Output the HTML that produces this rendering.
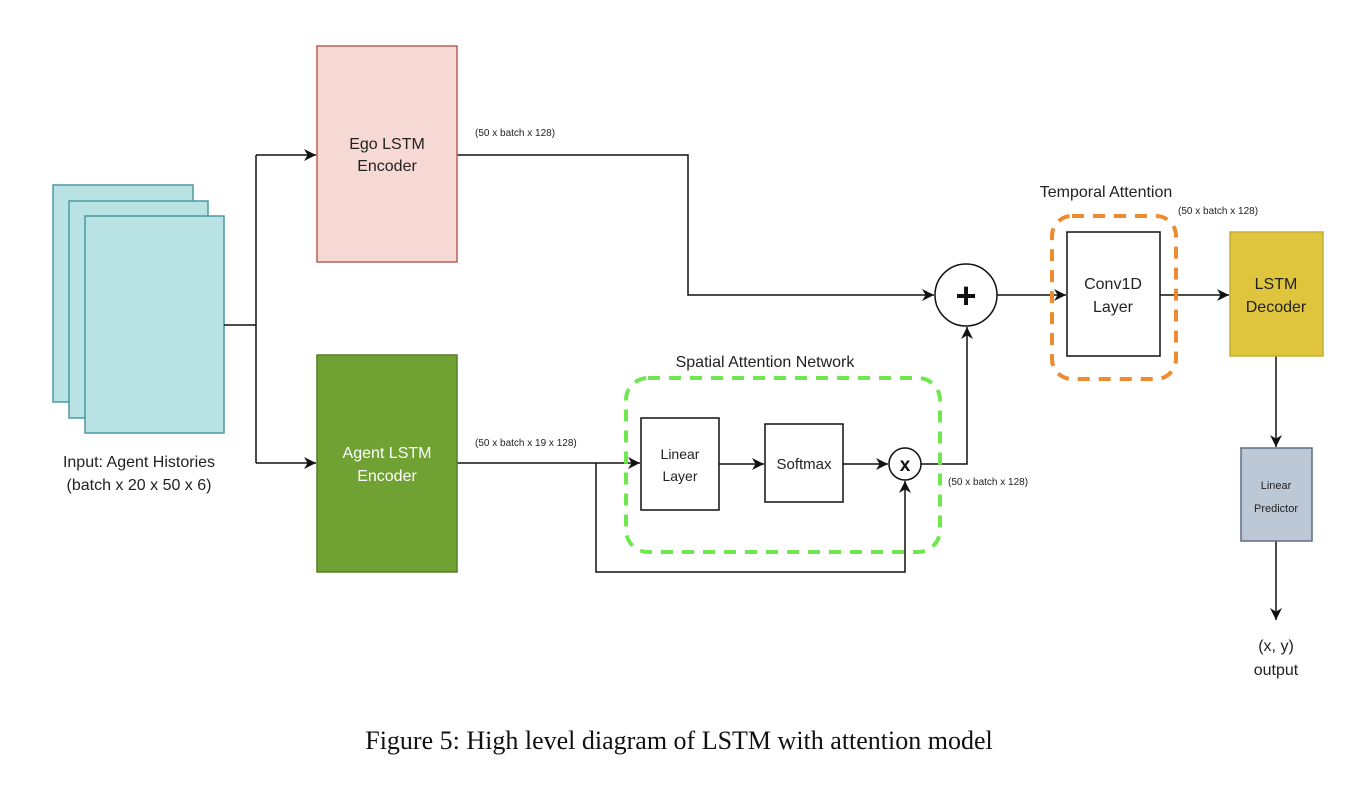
<!DOCTYPE html>
<html><head><meta charset="utf-8"><style>html,body{margin:0;padding:0;background:#fff}svg{display:block}</style></head>
<body>
<svg width="1358" height="786" viewBox="0 0 1358 786" xmlns="http://www.w3.org/2000/svg" font-family="Liberation Sans, Arial, sans-serif">
<defs>
<marker id="a" viewBox="0 0 10 10" refX="10" refY="5" markerWidth="12" markerHeight="12" orient="auto" markerUnits="userSpaceOnUse"><path d="M0,0 L10,5 L0,10 L3,5 z" fill="#111"/></marker>
</defs>
<g stroke="#4a9aa0" stroke-width="1.5" fill="#b9e2e5">
<rect x="53" y="185" width="140" height="217"/>
<rect x="69" y="201" width="139" height="217"/>
<rect x="85" y="216" width="139" height="217"/>
</g>
<text x="139" y="467" font-size="16" text-anchor="middle" fill="#222">Input: Agent Histories</text>
<text x="139" y="490" font-size="16" text-anchor="middle" fill="#222">(batch x 20 x 50 x 6)</text>
<g stroke="#111" stroke-width="1.5" fill="none">
<path d="M224,325 H256 M256,155 V463"/>
<path d="M256,155 H316" marker-end="url(#a)"/>
<path d="M256,463 H316" marker-end="url(#a)"/>
<path d="M457,155 H688 V295 H934" marker-end="url(#a)"/>
<path d="M457,463 H640" marker-end="url(#a)"/>
<path d="M596,463 V572 H905 V481" marker-end="url(#a)"/>
<path d="M719,464 H764" marker-end="url(#a)"/>
<path d="M843,464 H888" marker-end="url(#a)"/>
<path d="M921,464 H967 V327" marker-end="url(#a)"/>
<path d="M997,295 H1066" marker-end="url(#a)"/>
<path d="M1160,295 H1229" marker-end="url(#a)"/>
<path d="M1276,356 V447" marker-end="url(#a)"/>
<path d="M1276,541 V620" marker-end="url(#a)"/>
</g>
<rect x="317" y="46" width="140" height="216" fill="#f6d8d5" stroke="#b9615a" stroke-width="1.5"/>
<text x="387" y="149" font-size="16" text-anchor="middle" fill="#222">Ego LSTM</text>
<text x="387" y="171" font-size="16" text-anchor="middle" fill="#222">Encoder</text>
<rect x="317" y="355" width="140" height="217" fill="#6fa133" stroke="#557f26" stroke-width="1.5"/>
<text x="387" y="458" font-size="16" text-anchor="middle" fill="#fff">Agent LSTM</text>
<text x="387" y="481" font-size="16" text-anchor="middle" fill="#fff">Encoder</text>
<text x="475" y="136" font-size="10" fill="#222">(50 x batch x 128)</text>
<text x="475" y="446" font-size="10" fill="#222">(50 x batch x 19 x 128)</text>
<text x="948" y="485" font-size="10" fill="#222">(50 x batch x 128)</text>
<text x="1178" y="214" font-size="10" fill="#222">(50 x batch x 128)</text>
<rect x="626" y="378" width="314" height="174" rx="22" fill="none" stroke="#6ee84e" stroke-width="4" stroke-dasharray="12,9"/>
<text x="765" y="367" font-size="16" text-anchor="middle" fill="#222">Spatial Attention Network</text>
<rect x="641" y="418" width="78" height="92" fill="#fff" stroke="#111" stroke-width="1.5"/>
<text x="680" y="459" font-size="14" text-anchor="middle" fill="#222">Linear</text>
<text x="680" y="481" font-size="14" text-anchor="middle" fill="#222">Layer</text>
<rect x="765" y="424" width="78" height="78" fill="#fff" stroke="#111" stroke-width="1.5"/>
<text x="804" y="469" font-size="15" text-anchor="middle" fill="#222">Softmax</text>
<circle cx="905" cy="464" r="16" fill="#fff" stroke="#111" stroke-width="1.5"/>
<text x="905" y="471" font-size="19" font-weight="bold" text-anchor="middle" fill="#111">x</text>
<circle cx="966" cy="295" r="31" fill="#fff" stroke="#111" stroke-width="1.5"/>
<text x="966" y="308" font-size="36" font-weight="bold" text-anchor="middle" fill="#111">+</text>
<rect x="1052" y="216" width="124" height="163" rx="20" fill="none" stroke="#ef8a2e" stroke-width="4" stroke-dasharray="12,9"/>
<text x="1106" y="197" font-size="16" text-anchor="middle" fill="#222">Temporal Attention</text>
<rect x="1067" y="232" width="93" height="124" fill="#fff" stroke="#111" stroke-width="1.5"/>
<text x="1113" y="289" font-size="16" text-anchor="middle" fill="#222">Conv1D</text>
<text x="1113" y="312" font-size="16" text-anchor="middle" fill="#222">Layer</text>
<rect x="1230" y="232" width="93" height="124" fill="#dfc43e" stroke="#c9ad2e" stroke-width="1.5"/>
<text x="1276" y="289" font-size="16" text-anchor="middle" fill="#222">LSTM</text>
<text x="1276" y="312" font-size="16" text-anchor="middle" fill="#222">Decoder</text>
<rect x="1241" y="448" width="71" height="93" fill="#bcc8d6" stroke="#5d6f82" stroke-width="1.5"/>
<text x="1276" y="489" font-size="11" text-anchor="middle" fill="#222">Linear</text>
<text x="1276" y="512" font-size="11" text-anchor="middle" fill="#222">Predictor</text>
<text x="1276" y="651" font-size="16" text-anchor="middle" fill="#222">(x, y)</text>
<text x="1276" y="675" font-size="16" text-anchor="middle" fill="#222">output</text>
<text x="679" y="749" font-size="26" text-anchor="middle" font-family="Liberation Serif, serif" fill="#111">Figure 5: High level diagram of LSTM with attention model</text>
</svg>
</body></html>
